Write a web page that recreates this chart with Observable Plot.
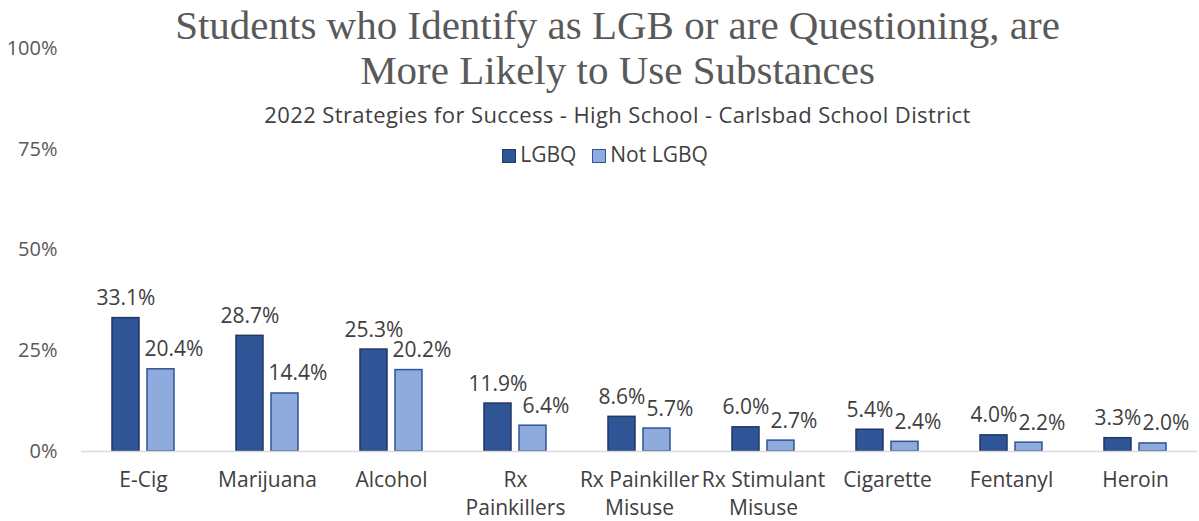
<!DOCTYPE html>
<html>
<head>
<meta charset="utf-8">
<script src="https://cdn.jsdelivr.net/npm/d3@7"></script>
<script src="https://cdn.jsdelivr.net/npm/@observablehq/plot@0.6"></script>
<style>
  body { margin: 0; background: #fff; }
  #wrap { position: relative; width: 1199px; height: 521px; overflow: hidden; font-family: "Open Sans", sans-serif; }
  #title { position: absolute; left: 0; width: 1235px; top: 3px; text-align: center; font-family: "Liberation Serif", serif; font-size: 41px; line-height: 45px; color: #595959; }
  #subtitle { position: absolute; left: 0; width: 1235px; top: 99px; text-align: center; font-size: 22px; letter-spacing: 0.4px; color: #404040; }
  #legend { position: absolute; left: 0; width: 1210px; top: 140px; text-align: center; font-size: 21px; color: #404040; }
  .sw { display: inline-block; width: 14px; height: 14px; vertical-align: -1px; margin-right: 4px; box-sizing: border-box; border: 1.5px solid; }
  .item { margin: 0 8px; }
  svg { position: absolute; left: 0; top: 0; }
</style>
</head>
<body>
<div id="wrap">
  <div id="chart"></div>
  <div id="title">Students who Identify as LGB or are Questioning, are<br>More Likely to Use Substances</div>
  <div id="subtitle">2022 Strategies for Success - High School - Carlsbad School District</div>
  <div id="legend"></div>
</div>
<script>
const categories = ["E-Cig", "Marijuana", "Alcohol", "Rx Painkillers", "Rx Painkiller Misuse", "Rx Stimulant Misuse", "Cigarette", "Fentanyl", "Heroin"];
const categoryLabels = ["E-Cig", "Marijuana", "Alcohol", "Rx\nPainkillers", "Rx Painkiller\nMisuse", "Rx Stimulant\nMisuse", "Cigarette", "Fentanyl", "Heroin"];
const seriesNames = ["LGBQ", "Not LGBQ"];
const lgbq = [33.1, 28.7, 25.3, 11.9, 8.6, 6.0, 5.4, 4.0, 3.3];
const notLgbq = [20.4, 14.4, 20.2, 6.4, 5.7, 2.7, 2.4, 2.2, 2.0];
const yTicks = [0, 25, 50, 75, 100];
const fills = ["#2F5597", "#8FAADC"];
const strokes = ["#203864", "#2F5597"];

const data = [];
categories.forEach((c, i) => {
  data.push({cat: c, group: seriesNames[0], value: lgbq[i]});
  data.push({cat: c, group: seriesNames[1], value: notLgbq[i]});
});
const labelOf = new Map(categories.map((c, i) => [c, categoryLabels[i]]));

const chart = Plot.plot({
  width: 1199,
  height: 521,
  marginTop: 48,
  marginBottom: 70,
  marginLeft: 78,
  marginRight: 0,
  style: {fontFamily: "Open Sans, sans-serif", background: "transparent"},
  fx: {domain: categories, padding: 0, label: null},
  x: {domain: seriesNames, paddingInner: 0.22, paddingOuter: 0.84, axis: null},
  y: {domain: [0, 100], label: null},
  color: {domain: seriesNames, range: fills},
  marks: [
    Plot.axisY({ticks: yTicks, tickSize: 0, tickPadding: 24, tickFormat: d => d + "%", fontSize: 20, color: "#595959", label: null}),
    Plot.axisFx({anchor: "bottom", tickSize: 0, tickPadding: 16, tickFormat: d => labelOf.get(d), fontSize: 21, lineHeight: 1.32, color: "#404040", label: null}),
    Plot.barY(data, {fx: "cat", x: "group", y: "value", fill: "group", stroke: d => d.group === seriesNames[0] ? strokes[0] : strokes[1], strokeWidth: 1.5}),
    Plot.ruleY([0], {stroke: "#d9d9d9", strokeWidth: 1.5}),
    Plot.text(data.filter(d => d.group === seriesNames[0]), {fx: "cat", x: "group", y: "value", text: d => d.value.toFixed(1) + "%", lineAnchor: "bottom", dy: -13, fontSize: 21, fill: "#404040"}),
    Plot.text(data.filter(d => d.group === seriesNames[1]), {fx: "cat", x: "group", y: "value", text: d => d.value.toFixed(1) + "%", lineAnchor: "bottom", dy: -13, dx: 13, fontSize: 21, fill: "#404040"})
  ]
});
document.getElementById("chart").appendChild(chart);

const legend = document.getElementById("legend");
legend.innerHTML = seriesNames.map((s, i) =>
  `<span class="item"><span class="sw" style="background:${fills[i]};border-color:${strokes[i]}"></span>${s}</span>`
).join("");
</script>
</body>
</html>
